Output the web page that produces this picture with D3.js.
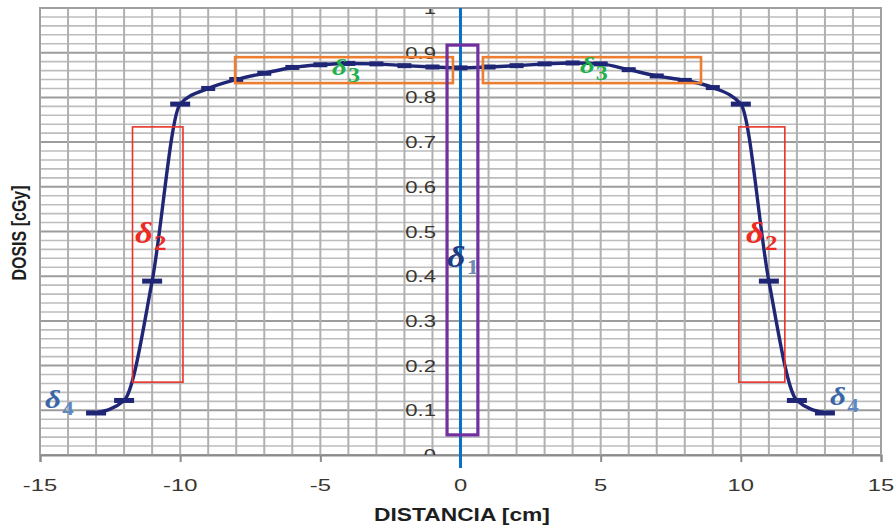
<!DOCTYPE html>
<html>
<head>
<meta charset="utf-8">
<script src="https://cdn.jsdelivr.net/npm/d3@7"></script>
<style>
  body { margin: 0; background: #fff; }
</style>
</head>
<body>
<script>
// dose profile
var distancia = [-13, -12, -11, -10, -9, -8, -7, -6, -5, -4, -3, -2, -1, 0,
                 1, 2, 3, 4, 5, 6, 7, 8, 9, 10, 11, 12, 13];
var dosis = [0.094, 0.122, 0.389, 0.785, 0.820, 0.840, 0.854, 0.867, 0.873, 0.876, 0.875, 0.871, 0.868, 0.866,
             0.868, 0.871, 0.875, 0.877, 0.875, 0.862, 0.848, 0.838, 0.822, 0.785, 0.389, 0.122, 0.094];
// points drawn with the wide error-bar marker
var barPoints = [-13, -12, -11, -10, 10, 11, 12, 13];

var xTicks = [-15, -10, -5, 0, 5, 10, 15];
var yTicks = [0, 0.1, 0.2, 0.3, 0.4, 0.5, 0.6, 0.7, 0.8, 0.9, 1];
var yTickLabels = ['0', '0.1', '0.2', '0.3', '0.4', '0.5', '0.6', '0.7', '0.8', '0.9', '1'];

// annotation boxes, in data units
var boxes = [
  { x0: -11.7, x1: -9.9, y0: 0.163, y1: 0.734, color: '#e8332a', sw: 1.6 },
  { x0: 9.93, x1: 11.57, y0: 0.163, y1: 0.734, color: '#e8332a', sw: 1.6 },
  { x0: -8.04, x1: -0.27, y0: 0.832, y1: 0.890, color: '#ed7d31', sw: 2.6 },
  { x0: 0.80, x1: 8.58, y0: 0.832, y1: 0.890, color: '#ed7d31', sw: 2.6 },
  { x0: -0.48, x1: 0.62, y0: 0.045, y1: 0.917, color: '#7030a0', sw: 3.2 }
];

var deltas = [
  { x: -11.61, y: 0.474, sub: '2', c: '#ee2a24', sc: '#ee2a24', fs: 29, ss: 21 },
  { x: 10.18, y: 0.474, sub: '2', c: '#ee2a24', sc: '#ee2a24', fs: 29, ss: 21 },
  { x: -0.48, y: 0.42, sub: '1', c: '#213a82', sc: '#7389b2', fs: 30, ss: 20 },
  { x: -4.58, y: 0.85, sub: '3', c: '#22b04b', sc: '#22b04b', fs: 24, ss: 20 },
  { x: 4.26, y: 0.855, sub: '3', c: '#22b04b', sc: '#22b04b', fs: 24, ss: 20 },
  { x: -14.82, y: 0.105, sub: '4', c: '#3a66a8', sc: '#5d88c2', fs: 26, ss: 19 },
  { x: 13.18, y: 0.112, sub: '4', c: '#3a66a8', sc: '#5d88c2', fs: 26, ss: 19 }
];

var w = 896;
var h = 526;
var pL = 40, pR = 881, pT = 8, pB = 455;

var x = d3.scaleLinear().domain([-15, 15]).range([pL, pR]);
var y = d3.scaleLinear().domain([0, 1]).range([pB, pT]);

var svg = d3.select('body')
            .append('svg')
            .attr('width', w)
            .attr('height', h)
            .style('font-family', '"Liberation Sans", Arial, sans-serif');

svg.append('rect').attr('width', w).attr('height', h).attr('fill', '#fff');

svg.append('clipPath').attr('id', 'plot')
  .append('rect')
    .attr('x', pL).attr('y', pT)
    .attr('width', pR - pL).attr('height', pB - pT);

// grid
var hLines = d3.range(0, 51).map(i => i / 50);
svg.append('g').selectAll('line')
  .data(hLines)
  .enter()
  .append('line')
    .attr('x1', pL).attr('x2', pR)
    .attr('y1', d => y(d)).attr('y2', d => y(d))
    .attr('stroke', (d, i) => i % 5 == 0 ? '#9c9c9c' : '#bdbdbd')
    .attr('stroke-width', (d, i) => i % 5 == 0 ? 2 : 1.6);

svg.append('g').selectAll('line')
  .data(d3.range(-15, 16))
  .enter()
  .append('line')
    .attr('x1', d => x(d)).attr('x2', d => x(d))
    .attr('y1', pT).attr('y2', pB)
    .attr('stroke', '#b0b0b0')
    .attr('stroke-width', 2);

// bottom axis
var xAxis = d3.axisBottom(x).tickValues(xTicks).tickSize(7).tickFormat('');
var gx = svg.append('g').attr('transform', 'translate(0,' + pB + ')').call(xAxis);
gx.select('.domain').attr('stroke', '#8c8c8c').attr('stroke-width', 2);
gx.selectAll('.tick line').attr('stroke', '#8c8c8c').attr('stroke-width', 2);

svg.append('g').selectAll('text')
  .data(xTicks)
  .enter()
  .append('text')
    .attr('transform', d => 'translate(' + x(d) + ',491) scale(1.4,1)')
    .attr('text-anchor', 'middle')
    .attr('font-size', 17)
    .attr('fill', '#3a3630')
    .text(d => d);

// y labels sit beside the zero line
svg.append('g').attr('clip-path', 'url(#plot)').selectAll('text')
  .data(yTicks)
  .enter()
  .append('text')
    .attr('transform', d => 'translate(436,' + (y(d) + 6) + ') scale(1.3,1)')
    .attr('text-anchor', 'end')
    .attr('font-size', 17)
    .attr('fill', '#3a3630')
    .text((d, i) => yTickLabels[i]);

// axis titles
svg.append('text')
  .attr('transform', 'translate(462,521) scale(1.2,1)')
  .attr('text-anchor', 'middle')
  .attr('font-size', 19)
  .attr('font-weight', 'bold')
  .attr('fill', '#1e1e1e')
  .text('DISTANCIA [cm]');

svg.append('text')
  .attr('transform', 'translate(26,233) rotate(-90) scale(1,1.25)')
  .attr('text-anchor', 'middle')
  .attr('font-size', 16)
  .attr('font-weight', 'bold')
  .attr('fill', '#1e1e1e')
  .text('DOSIS [cGy]');

// plot border (top, right)
svg.append('path')
  .attr('d', 'M' + pL + ',' + pB + 'V' + pT + 'H' + pR + 'V' + pB)
  .attr('fill', 'none')
  .attr('stroke', '#a0a0a0')
  .attr('stroke-width', 2);

// central axis line
svg.append('line')
  .attr('x1', x(0)).attr('x2', x(0))
  .attr('y1', y(1)).attr('y2', y(-0.029))
  .attr('stroke', '#0a70c4')
  .attr('stroke-width', 3);

// the profile
var pts = distancia.map((d, i) => [d, dosis[i]]);
var line = d3.line()
  .x(d => x(d[0]))
  .y(d => y(d[1]))
  .curve(d3.curveMonotoneX);

svg.append('path')
  .datum(pts)
  .attr('d', line)
  .attr('fill', 'none')
  .attr('stroke', '#1f2675')
  .attr('stroke-width', 3.4);

svg.append('g').selectAll('rect')
  .data(pts)
  .enter()
  .append('rect')
    .attr('x', d => x(d[0]) - (barPoints.includes(d[0]) ? 10 : 7))
    .attr('y', d => y(d[1]) - 2.5)
    .attr('width', d => barPoints.includes(d[0]) ? 20 : 14)
    .attr('height', 5)
    .attr('fill', '#1f2675');

// boxes
svg.append('g').selectAll('rect')
  .data(boxes)
  .enter()
  .append('rect')
    .attr('x', d => x(d.x0))
    .attr('y', d => y(d.y1))
    .attr('width', d => x(d.x1) - x(d.x0))
    .attr('height', d => y(d.y0) - y(d.y1))
    .attr('fill', 'none')
    .attr('stroke', d => d.color)
    .attr('stroke-width', d => d.sw);

// delta labels
var lab = svg.append('g').selectAll('text')
  .data(deltas)
  .enter()
  .append('text')
    .attr('transform', d => 'translate(' + x(d.x) + ',' + y(d.y) + ') scale(1.2,1)')
    .attr('font-family', '"Liberation Serif", "DejaVu Serif", serif')
    .attr('font-style', 'italic')
    .attr('font-weight', 'bold')
    .attr('font-size', d => d.fs)
    .attr('fill', d => d.c);

lab.append('tspan').text('δ');
lab.append('tspan')
  .attr('dy', 7)
  .attr('dx', 1)
  .attr('font-style', 'normal')
  .attr('font-size', d => d.ss)
  .attr('fill', d => d.sc)
  .text(d => d.sub);
</script>
</body>
</html>
